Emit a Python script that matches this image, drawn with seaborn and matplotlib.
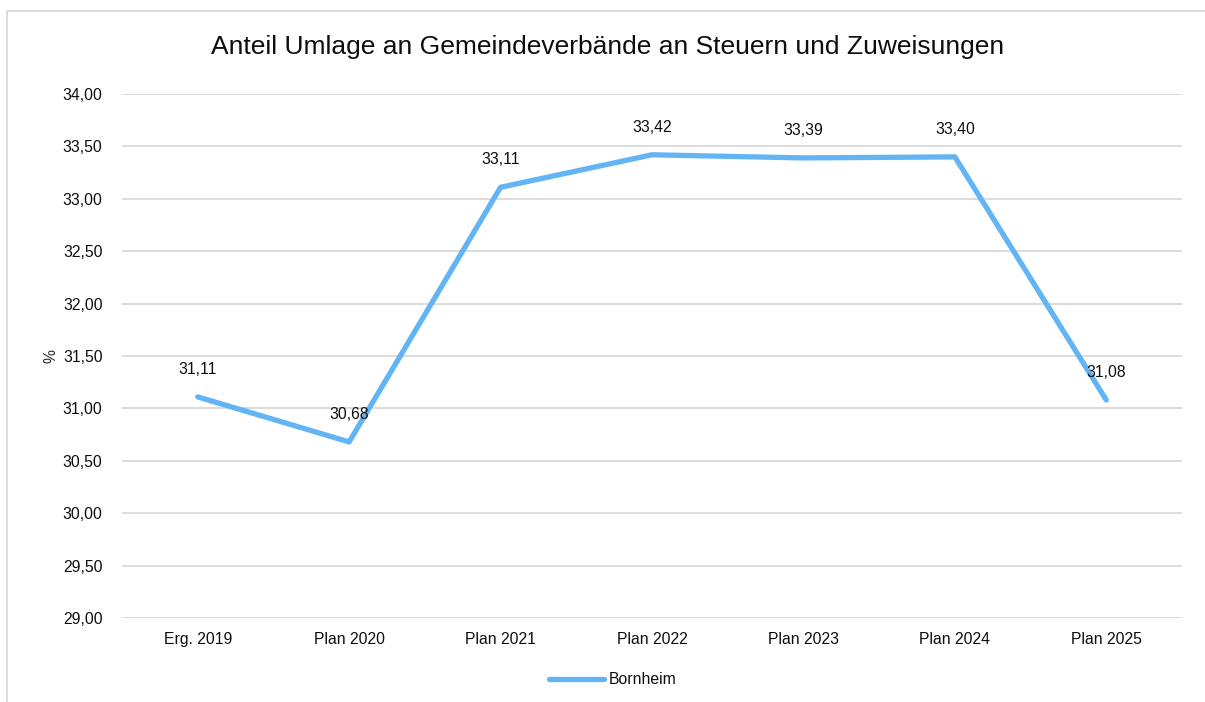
import pandas as pd
import matplotlib.pyplot as plt
import seaborn as sns
from matplotlib.patches import Rectangle

# Daten
jahre = ['Erg. 2019', 'Plan 2020', 'Plan 2021', 'Plan 2022', 'Plan 2023', 'Plan 2024', 'Plan 2025']
bornheim = [31.11, 30.68, 33.11, 33.42, 33.39, 33.40, 31.08]
y_ticks = [29.0, 29.5, 30.0, 30.5, 31.0, 31.5, 32.0, 32.5, 33.0, 33.5, 34.0]

df = pd.DataFrame({'Jahr': jahre, 'Wert': bornheim, 'Gemeinde': 'Bornheim'})

sns.set_style('white')
plt.rcParams['font.family'] = ['Liberation Sans', 'DejaVu Sans']
plt.rcParams['text.color'] = '#0D0D0D'

fs = 11.3
blau = '#63B4F5'

fig = plt.figure(figsize=(12.05, 7.02), dpi=100)
ax = fig.add_axes([122 / 1205, 1 - 618 / 702, (1182 - 122) / 1205, (618 - 94) / 702])

# Rahmen um das Diagramm (rechts und unten abgeschnitten)
fig.patches.append(Rectangle((7 / 1205, -0.05), 1.2, 1 - 11 / 702 + 0.05, transform=fig.transFigure,
                             fill=False, edgecolor='#D9D9D9', linewidth=1.3))

sns.lineplot(data=df, x='Jahr', y='Wert', hue='Gemeinde', palette=[blau],
             linewidth=3.8, ax=ax, sort=False, legend=False, solid_capstyle='round')

ax.set_xlim(-0.5, len(jahre) - 0.5)
ax.set_ylim(29, 34)
ax.set_yticks(y_ticks)
ax.set_yticklabels([f'{v:.2f}'.replace('.', ',') for v in y_ticks], fontsize=fs, color='#0D0D0D')
ax.set_xticks(range(len(jahre)))
ax.set_xticklabels(jahre, fontsize=fs, color='#0D0D0D')
ax.tick_params(axis='y', length=0, pad=14)
ax.tick_params(axis='x', length=0, pad=10)
ax.yaxis.grid(True, color='#D9D9D9', linewidth=1.3)
ax.set_axisbelow(True)
for s in ax.spines.values():
    s.set_visible(False)
ax.set_xlabel('')
ax.set_ylabel('%', fontsize=fs, labelpad=3)

# Datenbeschriftungen
for i, v in enumerate(bornheim):
    ax.annotate(f'{v:.2f}'.replace('.', ','), (i, v), xytext=(0, 20), textcoords='offset points',
                ha='center', va='center', fontsize=fs)

fig.text(608 / 1205, 1 - 47 / 702, 'Anteil Umlage an Gemeindeverbände an Steuern und Zuweisungen',
         ha='center', va='center', fontsize=19)

# Legende
handle = plt.Line2D([], [], color=blau, linewidth=3.8, solid_capstyle='round')
fig.legend([handle], ['Bornheim'], loc='center', bbox_to_anchor=(613 / 1205, 1 - 680 / 702),
           frameon=False, fontsize=fs, handlelength=3.5, handletextpad=0.3)

fig.savefig('out.png', dpi=100)
